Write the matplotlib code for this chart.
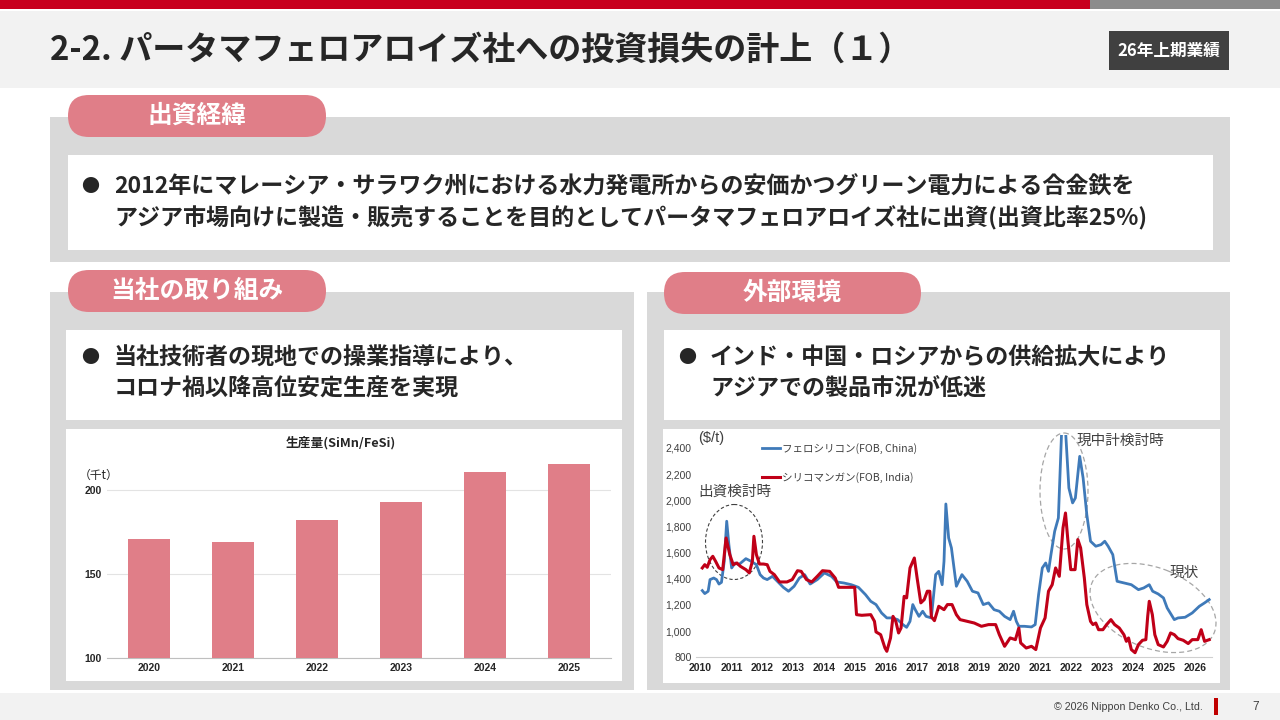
import matplotlib
matplotlib.use('Agg')
import matplotlib.pyplot as plt
from matplotlib.patches import Rectangle, FancyBboxPatch, Ellipse
from matplotlib.ticker import FuncFormatter

plt.rcParams['font.family'] = ['Noto Sans CJK JP', 'DejaVu Sans']

# ---- data ----
bar_years = ['2020', '2021', '2022', '2023', '2024', '2025']
production = [171, 169, 182, 193, 211, 216]   # 千t

fesi_t = [2010.06, 2010.14, 2010.25, 2010.31, 2010.43, 2010.52, 2010.60, 2010.68, 2010.77, 2010.85,
          2010.92, 2011.01, 2011.12, 2011.24, 2011.37, 2011.47, 2011.64, 2011.81, 2011.93, 2012.04,
          2012.16, 2012.33, 2012.51, 2012.68, 2012.85, 2013.03, 2013.20, 2013.37, 2013.55, 2013.78,
          2014.01, 2014.24, 2014.41, 2014.64, 2014.88, 2015.11, 2015.34, 2015.51, 2015.68, 2015.86,
          2016.03, 2016.20, 2016.38, 2016.55, 2016.67, 2016.78, 2016.87, 2016.95, 2017.07, 2017.19,
          2017.30, 2017.47, 2017.61, 2017.71, 2017.82, 2017.88, 2017.94, 2018.03, 2018.12, 2018.28,
          2018.46, 2018.63, 2018.80, 2018.98, 2019.15, 2019.32, 2019.50, 2019.67, 2019.84, 2020.02,
          2020.13, 2020.22, 2020.30, 2020.48, 2020.71, 2020.83, 2020.94, 2021.06, 2021.17, 2021.26,
          2021.34, 2021.46, 2021.58, 2021.69, 2021.81, 2021.92, 2022.04, 2022.13, 2022.27, 2022.38,
          2022.50, 2022.62, 2022.79, 2022.96, 2023.08, 2023.19, 2023.34, 2023.48, 2023.71, 2023.94,
          2024.17, 2024.34, 2024.52, 2024.63, 2024.81, 2024.98, 2025.10, 2025.33, 2025.45, 2025.68,
          2025.91, 2026.14, 2026.31, 2026.46]
fesi_v = [1310, 1287, 1305, 1394, 1406, 1394, 1360, 1373, 1534, 1840,
          1661, 1483, 1521, 1508, 1534, 1554, 1534, 1508, 1432, 1406,
          1394, 1419, 1376, 1335, 1305, 1343, 1406, 1432, 1360, 1394,
          1445, 1419, 1376, 1368, 1355, 1335, 1279, 1228, 1203, 1139,
          1101, 1101, 1088, 1050, 1029, 1075, 1203, 1164, 1113, 1152,
          1113, 1101, 1432, 1457, 1355, 1534, 1972, 1712, 1636, 1343,
          1432, 1381, 1305, 1292, 1203, 1216, 1164, 1152, 1113, 1088,
          1152, 1075, 1037, 1037, 1032, 1050, 1279, 1483, 1521, 1457,
          1585, 1763, 1865, 2560, 2540, 2094, 1980, 2018, 2336, 2171,
          1891, 1687, 1649, 1661, 1687, 1649, 1585, 1381, 1368, 1355,
          1317, 1330, 1355, 1305, 1284, 1254, 1177, 1088, 1101, 1106,
          1139, 1190, 1216, 1241]

simn_t = [2010.06, 2010.14, 2010.22, 2010.31, 2010.40, 2010.49, 2010.60, 2010.72, 2010.83, 2010.95,
          2011.06, 2011.18, 2011.29, 2011.47, 2011.58, 2011.68, 2011.73, 2011.81, 2011.91, 2012.04,
          2012.16, 2012.25, 2012.39, 2012.56, 2012.80, 2012.97, 2013.14, 2013.26, 2013.43, 2013.60,
          2013.78, 2013.95, 2014.18, 2014.36, 2014.47, 2014.70, 2014.99, 2015.05, 2015.22, 2015.51,
          2015.63, 2015.68, 2015.83, 2015.97, 2016.03, 2016.15, 2016.23, 2016.32, 2016.41, 2016.49,
          2016.59, 2016.67, 2016.78, 2016.92, 2017.01, 2017.13, 2017.24, 2017.34, 2017.42, 2017.47,
          2017.57, 2017.71, 2017.88, 2017.99, 2018.14, 2018.28, 2018.40, 2018.63, 2018.86, 2019.09,
          2019.32, 2019.55, 2019.67, 2019.84, 2020.02, 2020.19, 2020.30, 2020.36, 2020.54, 2020.71,
          2020.85, 2021.00, 2021.15, 2021.26, 2021.38, 2021.49, 2021.61, 2021.73, 2021.81, 2021.89,
          2021.98, 2022.12, 2022.21, 2022.30, 2022.42, 2022.50, 2022.62, 2022.70, 2022.79, 2022.88,
          2023.02, 2023.14, 2023.28, 2023.40, 2023.55, 2023.70, 2023.78, 2023.85, 2023.94, 2024.06,
          2024.17, 2024.30, 2024.41, 2024.47, 2024.52, 2024.62, 2024.70, 2024.81, 2024.98, 2025.10,
          2025.21, 2025.33, 2025.45, 2025.62, 2025.78, 2025.91, 2026.09, 2026.20, 2026.31, 2026.46]
simn_v = [1483, 1508, 1488, 1546, 1572, 1534, 1483, 1470, 1712, 1585,
          1508, 1521, 1496, 1470, 1445, 1534, 1725, 1585, 1513, 1513,
          1508, 1457, 1432, 1376, 1376, 1394, 1462, 1457, 1394, 1376,
          1419, 1462, 1457, 1406, 1335, 1335, 1335, 1126, 1121, 1126,
          1075, 994, 973, 871, 846, 948, 1113, 1075, 986, 1024,
          1266, 1254, 1483, 1559, 1406, 1216, 1241, 1305, 1305, 1110,
          1080, 1190, 1164, 1203, 1203, 1126, 1088, 1075, 1062, 1037,
          1050, 1050, 973, 884, 948, 935, 1024, 910, 871, 884,
          859, 1024, 1101, 1305, 1355, 1483, 1419, 1789, 1903, 1687,
          1470, 1470, 1700, 1636, 1406, 1203, 1075, 1050, 1062, 1011,
          1011, 1050, 1088, 1050, 1024, 973, 922, 948, 859, 835,
          897, 930, 935, 1113, 1228, 1126, 973, 897, 879, 922,
          986, 973, 943, 930, 905, 935, 935, 1011, 922, 935]

year_ticks = list(range(2010, 2027))
price_ticks = [800, 1000, 1200, 1400, 1600, 1800, 2000, 2200, 2400]
prod_ticks = [100, 150, 200]

# ---- colours ----
PINK = '#E07E88'
GRAY = '#D9D9D9'
LIGHT = '#F2F2F2'
BLUE = '#3F7AB9'
RED = '#C00018'
TXT = '#262626'
NUM = ['Liberation Sans', 'DejaVu Sans']

W, H = 1280, 720
fig = plt.figure(figsize=(12.8, 7.2), dpi=100)
bg = fig.add_axes([0, 0, 1, 1])
bg.set_xlim(0, W)
bg.set_ylim(H, 0)
bg.axis('off')


def box(x0, y0, x1, y1, color, z=1):
    bg.add_patch(Rectangle((x0, y0), x1 - x0, y1 - y0, facecolor=color,
                           edgecolor='none', zorder=z))


def pill(x0, y0, x1, y1, text):
    r = (y1 - y0) / 2
    bg.add_patch(FancyBboxPatch((x0, y0), x1 - x0, y1 - y0,
                                boxstyle=f'round,pad=0,rounding_size={r}',
                                facecolor=PINK, edgecolor='none', zorder=4))
    bg.text((x0 + x1) / 2, (y0 + y1) / 2, text, color='white', fontsize=17.8,
            fontweight='bold', ha='center', va='center', zorder=5)


def px_axes(x0, y0, x1, y1):
    return fig.add_axes([x0 / W, 1 - y1 / H, (x1 - x0) / W, (y1 - y0) / H])


# header / footer
box(0, 0, 1090, 9, '#C8001E')
box(1090, 0, W, 9, '#8C8C8C')
box(0, 11, W, 88, LIGHT)
bg.text(50, 50, '2-2. パータマフェロアロイズ社への投資損失の計上（１）', fontsize=23.8,
        fontweight='bold', color=TXT, ha='left', va='center', zorder=3)
box(1109, 31, 1229, 70, '#404040', z=2)
bg.text(1169, 50.5, '26年上期業績', fontsize=12, fontweight='bold', color='white',
        ha='center', va='center', zorder=3)
box(0, 693, W, H, LIGHT)
bg.text(1203, 706.5, '© 2026 Nippon Denko Co., Ltd.', fontsize=7.7, color='#404040',
        family=NUM, ha='right', va='center')
box(1214, 698, 1217.5, 715, '#C00000', z=2)
bg.text(1256, 706.5, '7', fontsize=8.5, color='#404040', family=NUM, ha='center', va='center')

# section 1
box(50, 117, 1230, 262, GRAY)
box(68, 155, 1213, 250, 'white', z=2)
pill(68, 95, 326, 137, '出資経緯')
body = dict(fontsize=16.6, fontweight='bold', color=TXT, va='center', zorder=3)
dot = dict(fontsize=13, color=TXT, ha='center', va='center', zorder=3)
bg.text(90, 187, '●', **dot)
bg.text(114, 187, '2012年にマレーシア・サラワク州における水力発電所からの安価かつグリーン電力による合金鉄を', **body)
bg.text(114, 218, 'アジア市場向けに製造・販売することを目的としてパータマフェロアロイズ社に出資(出資比率25%)', **body)

# section 2 left
box(50, 292, 634, 690, GRAY)
box(66, 330, 622, 420, 'white', z=2)
box(66, 429, 622, 681, 'white', z=2)
pill(68, 270, 326, 312, '当社の取り組み')
bg.text(90, 358, '●', **dot)
bg.text(114, 358, '当社技術者の現地での操業指導により、', **body)
bg.text(114, 389, 'コロナ禍以降高位安定生産を実現', **body)

# section 2 right
box(647, 292, 1230, 690, GRAY)
box(664, 330, 1220, 420, 'white', z=2)
box(663, 429, 1220, 683, 'white', z=2)
pill(664, 272, 921, 314, '外部環境')
bg.text(687, 358, '●', **dot)
bg.text(710, 358, 'インド・中国・ロシアからの供給拡大により', **body)
bg.text(710, 389, 'アジアでの製品市況が低迷', **body)

# ---- bar chart ----
bar_ax = px_axes(107, 453.5, 611, 657.7)
bar_ax.set_facecolor('none')
bar_ax.bar(range(len(bar_years)), production, width=0.5, color=PINK, zorder=3)
bar_ax.set_xlim(-0.5, len(bar_years) - 0.5)
bar_ax.set_ylim(100, 222)
bar_ax.set_yticks(prod_ticks)
bar_ax.set_xticks(range(len(bar_years)))
bar_ax.set_xticklabels(bar_years)
bar_ax.grid(axis='y', color='#E3E3E3', lw=0.8, zorder=0)
for s in ['top', 'right', 'left']:
    bar_ax.spines[s].set_visible(False)
bar_ax.spines['bottom'].set_color('#BFBFBF')
bar_ax.tick_params(length=0, pad=4)
for lab in bar_ax.get_xticklabels() + bar_ax.get_yticklabels():
    lab.set_fontfamily(NUM)
    lab.set_fontweight('bold')
    lab.set_fontsize(7.5)
    lab.set_color(TXT)
bg.text(341, 443, '生産量(SiMn/FeSi)', fontsize=9.2, fontweight='bold', color=TXT,
        ha='center', va='center', zorder=3)
bg.text(99, 475, '（千t）', fontsize=8.5, color=TXT, ha='center', va='center', zorder=3)

# ---- price chart ----
ax = px_axes(695.8, 434.9, 1212.0, 657.3)
ax.set_facecolor('none')
ax.plot(fesi_t, fesi_v, color=BLUE, lw=2.0, label='フェロシリコン(FOB, China)', zorder=3)
ax.plot(simn_t, simn_v, color=RED, lw=2.2, label='シリコマンガン(FOB, India)', zorder=4)
ax.set_xlim(2009.85, 2026.55)
ax.set_ylim(800, 2500)
ax.set_xticks(year_ticks)
ax.set_yticks(price_ticks)
ax.yaxis.set_major_formatter(FuncFormatter(lambda v, p: f'{v:,.0f}'))
for s in ['top', 'right', 'left']:
    ax.spines[s].set_visible(False)
ax.spines['bottom'].set_color('#D0D0D0')
ax.tick_params(length=0)
ax.tick_params(axis='y', pad=3)
ax.tick_params(axis='x', pad=4)
for lab in ax.get_xticklabels():
    lab.set_fontfamily(NUM)
    lab.set_fontweight('bold')
    lab.set_fontsize(7.5)
    lab.set_color(TXT)
for lab in ax.get_yticklabels():
    lab.set_fontfamily(NUM)
    lab.set_fontsize(7.5)
    lab.set_color('#404040')
leg = ax.legend(loc='upper left', bbox_to_anchor=(0.128, 0.965), frameon=False,
                fontsize=7.6, handlelength=1.7, handletextpad=0.2, labelspacing=1.75,
                borderpad=0, borderaxespad=0)
for t in leg.get_texts():
    t.set_color('#404040')

bg.text(711, 438, '($/t)', fontsize=10.5, color='#404040', family=NUM,
        ha='center', va='center', zorder=3)
ann = dict(fontsize=10.5, color='#404040', ha='center', va='center', zorder=3)
bg.text(735, 492, '出資検討時', **ann)
bg.text(1120, 441, '現中計検討時', **ann)
bg.text(1184, 573, '現状', **ann)
bg.add_patch(Ellipse((734, 542), 57, 75, fill=False, ec='#404040', lw=0.8,
                     ls=(0, (3, 2)), zorder=3))
bg.add_patch(Ellipse((1064, 491), 48, 116, fill=False, ec='#A6A6A6', lw=0.9,
                     ls=(0, (4, 2.5)), zorder=3))
bg.add_patch(Ellipse((1153, 608), 132, 80, angle=22, fill=False, ec='#A6A6A6', lw=0.9,
                     ls=(0, (4, 2.5)), zorder=3))

fig.savefig('out.png', dpi=100)
